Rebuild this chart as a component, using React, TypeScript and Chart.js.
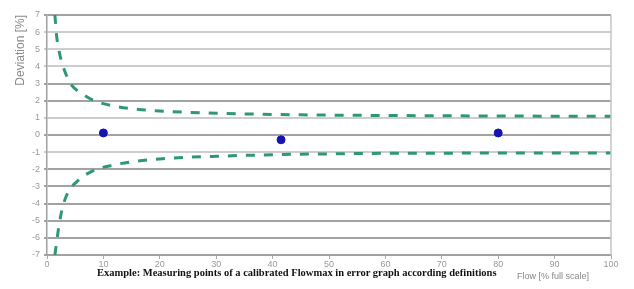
import React, { useEffect, useRef } from "react";
import { Chart, registerables } from "chart.js";

Chart.register(...registerables);

const upperX = [1.4, 1.7, 2.3, 3.2, 4.4, 5.9, 8.2, 11, 15, 20, 25, 30, 40, 50, 60, 70, 80, 90, 100];
const upperY = [7, 5.8, 4.65, 3.68, 2.9, 2.48, 2.03, 1.75, 1.53, 1.4, 1.32, 1.27, 1.2, 1.16, 1.14, 1.12, 1.11, 1.1, 1.1];
const lowerX = [1.4, 2, 2.6, 3.5, 5.3, 8.2, 11.8, 15.3, 20, 25, 30, 40, 50, 60, 70, 80, 90, 100];
const lowerY = [-7, -5.55, -4.45, -3.5, -2.72, -2.08, -1.75, -1.55, -1.4, -1.3, -1.24, -1.15, -1.1, -1.07, -1.06, -1.05, -1.05, -1.05];
const pointX = [10, 41.5, 80];
const pointY = [0.12, -0.28, 0.12];
const darkGridValues = [7, 3, 2, 0, -2, -3, -4, -5, -6, -7];

const caption = "Example: Measuring points of a calibrated Flowmax in error graph according definitions";
const xTitle = "Flow [% full scale]";
const yTitle = "Deviation [%]";

const borderPlugin = {
  id: "rightBorder",
  afterDraw(chart: any) {
    const { ctx, chartArea } = chart;
    ctx.save();
    ctx.strokeStyle = "#c4c4c4";
    ctx.lineWidth = 1.5;
    ctx.beginPath();
    ctx.moveTo(chartArea.right, chartArea.top);
    ctx.lineTo(chartArea.right, chartArea.bottom);
    ctx.stroke();
    ctx.restore();
  },
};

export default function App() {
  const ref = useRef<HTMLCanvasElement>(null);
  useEffect(() => {
    if (!ref.current) return;
    const green = "#2e9870";
    const chart = new Chart(ref.current, {
      type: "scatter",
      data: {
        datasets: [
          {
            data: upperX.map((x, i) => ({ x, y: upperY[i] })),
            showLine: true,
            borderColor: green,
            borderWidth: 3,
            borderDash: [9, 9],
            pointRadius: 0,
            cubicInterpolationMode: "monotone",
          },
          {
            data: lowerX.map((x, i) => ({ x, y: lowerY[i] })),
            showLine: true,
            borderColor: green,
            borderWidth: 3,
            borderDash: [9, 9],
            pointRadius: 0,
            cubicInterpolationMode: "monotone",
          },
          {
            data: pointX.map((x, i) => ({ x, y: pointY[i] })),
            showLine: false,
            backgroundColor: "#1414b4",
            borderColor: "#1414b4",
            pointRadius: 4,
          },
        ],
      },
      options: {
        animation: false,
        responsive: false,
        layout: { padding: { left: 0, top: 15, right: 23, bottom: 0 } },
        plugins: { legend: { display: false }, tooltip: { enabled: false } },
        scales: {
          x: {
            type: "linear",
            min: 0,
            max: 100,
            ticks: { stepSize: 10, color: "#999", font: { size: 9, family: "Liberation Sans" }, padding: 0 },
            grid: {
              drawOnChartArea: false,
              drawTicks: true,
              tickLength: 4,
              tickColor: "#aaa",
            },
            border: { color: "#a0a0a0", width: 1.5 },
            afterFit: (s: any) => {
              s.height = 34;
            },
          },
          y: {
            min: -7,
            max: 7,
            ticks: { stepSize: 1, color: "#999", font: { size: 9, family: "Liberation Sans" }, padding: 4 },
            grid: {
              color: (c: any) => (darkGridValues.includes(c.tick?.value) ? "#a2a2a2" : "#cdcdcd"),
              lineWidth: 2,
              tickLength: 3,
            },
            border: { color: "#a0a0a0", width: 1.5 },
            title: {
              display: true,
              text: yTitle,
              align: "end",
              color: "#8a8a8a",
              font: { size: 12, family: "Liberation Sans" },
              padding: { top: 13, bottom: 0 },
            },
            afterFit: (s: any) => {
              s.width = 47;
            },
          },
        },
      },
      plugins: [borderPlugin],
    } as any);
    return () => chart.destroy();
  }, []);
  return (
    <div style={{ position: "fixed", left: 0, top: 0, width: 634, height: 289, background: "#fff" }}>
      <canvas ref={ref} width={634} height={289} style={{ display: "block" }} />
      <div
        style={{
          position: "absolute",
          left: 97,
          top: 267,
          font: "bold 10.5px 'Liberation Serif'",
          color: "#111",
          whiteSpace: "nowrap",
        }}
      >
        {caption}
      </div>
      <div
        style={{
          position: "absolute",
          left: 517,
          top: 271,
          font: "9px 'Liberation Sans'",
          color: "#888",
          whiteSpace: "nowrap",
        }}
      >
        {xTitle}
      </div>
    </div>
  );
}
